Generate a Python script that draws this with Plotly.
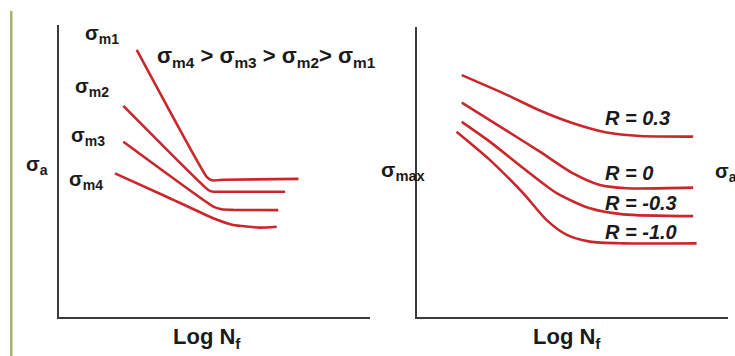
import plotly.graph_objects as go

W, H = 735, 356

# ---- data (arbitrary units: Log Nf on x, stress on y) ----
left_names = ["σm1", "σm2", "σm3", "σm4"]
left_x = [
    [2.5, 4.75, 4.92, 5.3, 7.7],
    [2.07, 4.80, 4.96, 5.3, 7.27],
    [2.07, 4.96, 5.23, 5.6, 7.05],
    [1.80, 3.46, 4.96, 5.60, 6.46, 7.0],
]
left_y = [
    [9.15, 4.80, 4.68, 4.70, 4.73],
    [7.23, 4.35, 4.29, 4.29, 4.29],
    [6.00, 3.78, 3.69, 3.67, 3.66],
    [4.92, 4.12, 3.38, 3.15, 3.06, 3.09],
]

right_names = ["R = 0.3", "R = 0", "R = -0.3", "R = -1.0"]
right_x = [
    [1.44, 2.89, 3.95, 5.02, 6.10, 7.17, 8.88],
    [1.44, 2.89, 3.95, 5.02, 5.88, 6.74, 8.88],
    [1.44, 2.35, 3.42, 4.49, 5.56, 6.63, 8.88],
    [1.27, 2.35, 3.42, 4.17, 4.82, 5.56, 6.63, 8.99],
]
right_y = [
    [8.34, 7.66, 7.12, 6.68, 6.36, 6.24, 6.22],
    [7.39, 6.42, 5.70, 4.95, 4.55, 4.44, 4.46],
    [6.73, 6.04, 5.13, 4.27, 3.75, 3.54, 3.48],
    [6.39, 5.41, 4.26, 3.34, 2.83, 2.60, 2.54, 2.54],
]

RED = "#c9272c"
AX = "#3a3a3a"
FONT = "Liberation Sans, Arial, sans-serif"

fig = go.Figure()
for xs, ys, nm in zip(left_x, left_y, left_names):
    fig.add_trace(go.Scatter(x=xs, y=ys, mode="lines", name=nm,
                             line=dict(color=RED, width=2.6, shape="spline", smoothing=0.4),
                             xaxis="x", yaxis="y", showlegend=False, hoverinfo="skip"))
for xs, ys, nm in zip(right_x, right_y, right_names):
    fig.add_trace(go.Scatter(x=xs, y=ys, mode="lines", name=nm,
                             line=dict(color=RED, width=2.6, shape="spline", smoothing=0.7),
                             xaxis="x2", yaxis="y2", showlegend=False, hoverinfo="skip"))

def px(x):
    return x / W

def py(y):
    return 1 - y / H

axis_common = dict(range=[0, 10], showline=True, linecolor=AX, linewidth=2,
                   showticklabels=False, showgrid=False, zeroline=False, ticks="",
                   fixedrange=True)

fig.update_layout(
    width=W, height=H, margin=dict(l=0, r=0, t=0, b=0),
    paper_bgcolor="white", plot_bgcolor="white",
    xaxis=dict(domain=[px(59), px(370)], anchor="y", **axis_common),
    yaxis=dict(domain=[py(317), py(25)], anchor="x", **axis_common),
    xaxis2=dict(domain=[px(417), px(728)], anchor="y2", **axis_common),
    yaxis2=dict(domain=[py(317), py(27)], anchor="x2", **axis_common),
)

# olive edge bar
fig.add_shape(type="rect", xref="paper", yref="paper",
              x0=px(10), x1=px(12.5), y0=0, y1=py(11),
              fillcolor="#a9b36a", line=dict(width=0), layer="below")

def label(text, x, y, size=20, xanchor="center", italic=False):
    t = f"<i>{text}</i>" if italic else text
    fig.add_annotation(text=t, xref="paper", yref="paper", x=px(x), y=py(y),
                       xanchor=xanchor, yanchor="middle", showarrow=False,
                       font=dict(family=FONT, size=size, color="#1a1a1a", weight="bold"))

label("σ<sub>a</sub>", 37, 166)
label("σ<sub>m1</sub>", 102, 35)
label("σ<sub>m2</sub>", 92, 88)
label("σ<sub>m3</sub>", 88, 136)
label("σ<sub>m4</sub>", 86, 180)
label("σ<sub>m4</sub> > σ<sub>m3</sub> > σ<sub>m2</sub>> σ<sub>m1</sub>", 266, 57, size=22)
label("Log N<sub>f</sub>", 207, 338, size=22)
label("Log N<sub>f</sub>", 567, 338, size=22)
label("σ<sub>max</sub>", 403, 171, size=21)
label("σ<sub>a</sub>", 713, 172, xanchor="left")

r_label_y = [118, 173, 203, 232]
for nm, yy in zip(right_names, r_label_y):
    label(nm, 603, yy, size=20, xanchor="left", italic=True)

fig.write_html("out.html")
